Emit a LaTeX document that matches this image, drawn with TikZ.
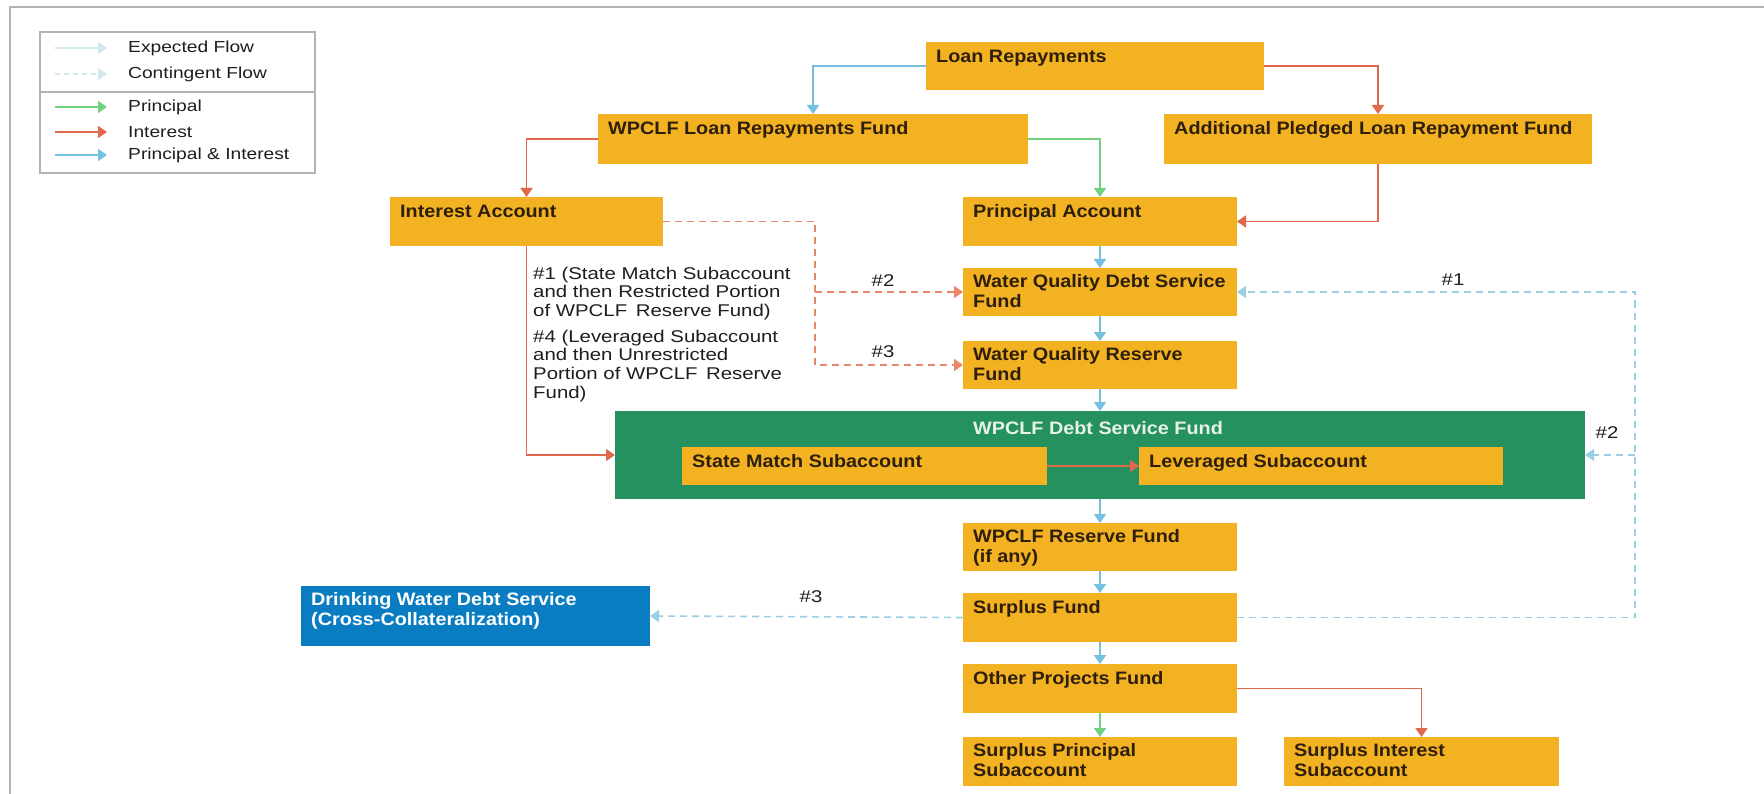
\documentclass[tikz,border=0pt]{standalone}
\usepackage{fontspec}
\setmainfont{Liberation Sans}[FakeStretch=1.1]
\newfontfamily\lblfont{Liberation Sans}[FakeStretch=1.2]
\usetikzlibrary{arrows.meta}
\definecolor{gold}{HTML}{F2B222}
\definecolor{boxtxt}{HTML}{2E1E0C}
\definecolor{dsgreen}{HTML}{24915F}
\definecolor{greentxt}{HTML}{E8F2E6}
\definecolor{dwblue}{HTML}{0A7DC2}
\definecolor{lnred}{HTML}{E0694B}
\definecolor{lngreen}{HTML}{72D07E}
\definecolor{lnblue}{HTML}{74C0DE}
\definecolor{dshred}{HTML}{E8876C}
\definecolor{dshblue}{HTML}{9CCFE5}
\definecolor{framegray}{HTML}{B4B4B4}
\definecolor{faint}{HTML}{D3E7EE}
\definecolor{lbltxt}{HTML}{1E1E1E}
\newcommand\tstrut{\rule{0pt}{14pt}}
\newcommand\lstrut{\rule{0pt}{12.5pt}}
\newcommand\mkbox[7]{% style, name, x1, y1, x2, y2, text
  \node[#1, minimum width={#5-#3}, minimum height={#6-#4}] (#2) at (#3,#4) {};
  \node[#1 text] (#2-t) at ([shift={(10pt,-6pt)}]#2.north west) {#7};
}
\tikzset{
  x=1pt, y=-1pt,
  boxbase/.style={inner sep=0pt, outer sep=0pt, anchor=north west, draw=none},
  goldbox/.style={boxbase, fill=gold},
  goldbox text/.style={inner sep=0pt, anchor=north west, align=left, text=boxtxt,
    font=\fontsize{18}{20}\selectfont\bfseries, execute at begin node=\tstrut},
  bluebox/.style={boxbase, fill=dwblue},
  bluebox text/.style={goldbox text, text=white},
  greenbox/.style={boxbase, fill=dsgreen},
  tiphead/.style={-{Triangle[width=12pt,length=9pt]}},
  flow/.style={line width=1.8pt, tiphead},
  prflow/.style={flow, draw=lngreen},
  inflow/.style={flow, draw=lnred},
  piflow/.style={flow, draw=lnblue},
  contflow/.style={line width=1.6pt, dash pattern=on 7pt off 5pt, tiphead},
  contin/.style={contflow, draw=dshred},
  contpi/.style={contflow, draw=dshblue},
  lbl/.style={inner sep=0pt, text=lbltxt, font=\lblfont\fontsize{17}{18.7}\selectfont},
  lblblock/.style={lbl, anchor=north west, align=left, execute at begin node=\lstrut},
  legtext/.style={inner sep=0pt, anchor=west, text=lbltxt, font=\lblfont\fontsize{16}{18}\selectfont},
}
\begin{document}
\begin{tikzpicture}
\useasboundingbox (0,0) rectangle (1764,794);
\fill[white] (0,0) rectangle (1764,794);
% outer frame
\draw[framegray, line width=2pt] (10,794) -- (10,7) -- (1764,7);

% legend
\node[boxbase, draw=framegray, line width=1.5pt, minimum width=275, minimum height=141] (legend) at (40,32) {};
\draw[framegray, line width=1.5pt] (legend.west |- 0,92) -- (legend.east |- 0,92);
\coordinate (la1) at (55,48);  \coordinate (lb1) at (107,48);
\coordinate (la2) at (55,74);  \coordinate (lb2) at (107,74);
\coordinate (la3) at (55,107); \coordinate (lb3) at (107,107);
\coordinate (la4) at (55,132); \coordinate (lb4) at (107,132);
\coordinate (la5) at (55,155); \coordinate (lb5) at (107,155);
\draw[flow, draw=faint, line width=1.4pt] (la1) -- (lb1);
\draw[contflow, draw=faint, line width=1.4pt, dash pattern=on 5pt off 4pt] (la2) -- (lb2);
\draw[prflow, line width=1.4pt] (la3) -- (lb3);
\draw[inflow, line width=1.4pt] (la4) -- (lb4);
\draw[piflow, line width=1.4pt] (la5) -- (lb5);
\node[legtext] (lt1) at (128,48) {Expected Flow};
\node[legtext] (lt2) at (128,74) {Contingent Flow};
\node[legtext] (lt3) at (128,107) {Principal};
\node[legtext] (lt4) at (128,132) {Interest};
\node[legtext] (lt5) at (128,155) {Principal \& Interest};

% boxes
\mkbox{goldbox}{lr}{926}{42}{1264}{90}{Loan Repayments}
\mkbox{goldbox}{wlrf}{598}{114}{1028}{164}{WPCLF Loan Repayments Fund}
\mkbox{goldbox}{apf}{1164}{114}{1592}{164}{Additional Pledged Loan Repayment Fund}
\mkbox{goldbox}{ia}{390}{197}{663}{246}{Interest Account}
\mkbox{goldbox}{pa}{963}{197}{1237}{246}{Principal Account}
\mkbox{goldbox}{wqdsf}{963}{268}{1237}{316}{Water Quality Debt Service\\Fund}
\mkbox{goldbox}{wqrf}{963}{341}{1237}{389}{Water Quality Reserve\\Fund}
\node[greenbox, minimum width=970, minimum height=88] (dsf) at (615,411) {};
\node[inner sep=0pt, text=greentxt, font=\fontsize{18}{20}\selectfont\bfseries] (dsf-t) at (1098,428) {WPCLF Debt Service Fund};
\mkbox{goldbox}{sm}{682}{447}{1047}{485}{State Match Subaccount}
\mkbox{goldbox}{lev}{1139}{447}{1503}{485}{Leveraged Subaccount}
\mkbox{goldbox}{wrf}{963}{523}{1237}{571}{WPCLF Reserve Fund\\(if any)}
\mkbox{goldbox}{sf}{963}{593}{1237}{642}{Surplus Fund}
\mkbox{goldbox}{op}{963}{664}{1237}{713}{Other Projects Fund}
\mkbox{goldbox}{sp}{963}{737}{1237}{786}{Surplus Principal\\Subaccount}
\mkbox{goldbox}{si}{1284}{737}{1559}{786}{Surplus Interest\\Subaccount}
\mkbox{bluebox}{dw}{301}{586}{650}{646}{Drinking Water Debt Service\\(Cross-Collateralization)}

% expected flows
\draw[piflow] (lr.west) -| (wlrf.north);
\draw[inflow] (lr.east) -| (apf.north);
\draw[inflow] (wlrf.west) -| (ia.north);
\draw[prflow] (wlrf.east) -| (pa.north);
\draw[inflow] (apf.south) |- (pa.east);
\draw[piflow] (pa.south) -- (wqdsf.north);
\draw[piflow] (wqdsf.south) -- (wqrf.north);
\draw[piflow] (wqrf.south) -- (wqrf.south |- dsf.north);
\draw[piflow] (wrf.north |- dsf.south) -- (wrf.north);
\draw[piflow] (wrf.south) -- (sf.north);
\draw[piflow] (sf.south) -- (op.north);
\draw[prflow] (op.south) -- (sp.north);
\draw[inflow] (op.east) -| (si.north);
\draw[inflow] (ia.south) |- (dsf.west);
\draw[inflow] (sm.east) -- (lev.west);

% contingent flows
\coordinate (jx) at (815,0);
\coordinate (rx) at (1635,0);
\draw[contin] (ia.east) -| (jx |- wqrf.west) -- (wqrf.west);
\draw[contin] (jx |- wqdsf.west) -- (wqdsf.west);
\draw[contpi] (sf.east) -| (rx |- wqdsf.east) -- (wqdsf.east);
\draw[contpi] (rx |- dsf.east) -- (dsf.east);
\draw[contpi] (sf.west) -- (dw.east);

% labels
\node[lblblock] (n1) at (533,266.5) {\#1 (State Match Subaccount\\and then Restricted Portion\\of WPCLF\, Reserve Fund)};
\node[lblblock] (n4) at (533,329.5) {\#4 (Leveraged Subaccount\\and then Unrestricted\\Portion of WPCLF\, Reserve\\Fund)};
\node[lbl] (h2a) at (883,281) {\#2};
\node[lbl] (h3a) at (883,352) {\#3};
\node[lbl] (h1b) at (1453,280) {\#1};
\node[lbl] (h2b) at (1607,433) {\#2};
\node[lbl] (h3b) at (811,597) {\#3};
\end{tikzpicture}
\end{document}
